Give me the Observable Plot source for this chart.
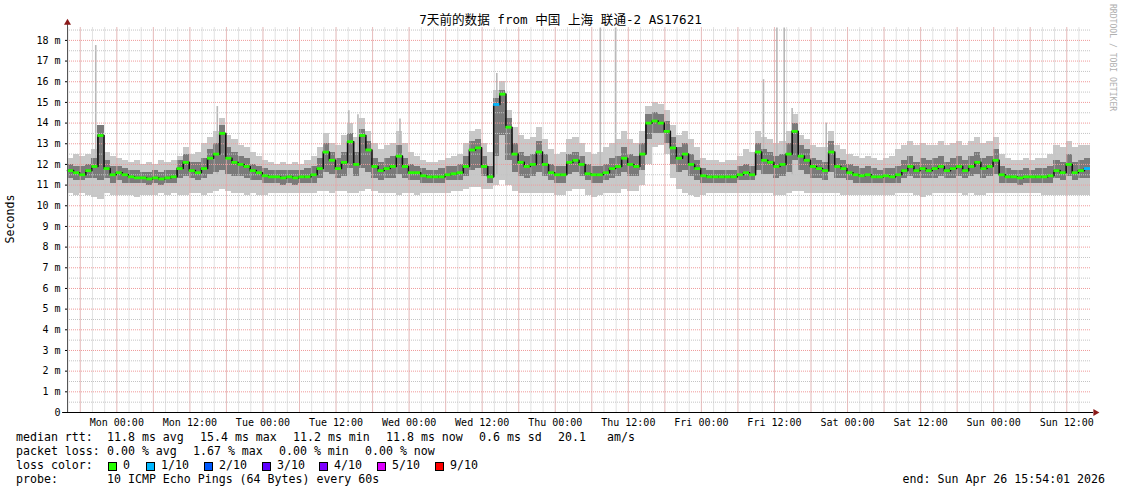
<!DOCTYPE html>
<html><head><meta charset="utf-8">
<script src="https://cdn.jsdelivr.net/npm/d3@7"></script>
<script src="https://cdn.jsdelivr.net/npm/@observablehq/plot@0.6"></script>
<style>
body{margin:0;background:#fff;}
#wrap{position:relative;width:1121px;height:494px;overflow:hidden;font-family:"DejaVu Sans Mono","Noto Sans CJK SC",monospace;color:#000;background:#fff;}
.t{position:absolute;white-space:pre;font-size:11.6px;line-height:1;}
.box{position:absolute;width:7px;height:7px;border:1px solid #000;}
#plot{position:absolute;left:0;top:0;}
</style></head><body><div id="wrap"><div id="plot"></div></div>
<script>
// ---- time range ----
const startMs = Date.UTC(2026, 3, 19, 15, 54, 1);
const endMs = Date.UTC(2026, 3, 26, 15, 54, 1);
const HOUR = 3600e3;

// ---- hourly median RTT (ms), 168 hours starting at start ----
const median = [
  11.7, 11.6, 11.5, 11.7, 11.9, 13.4, 11.8, 11.5, 11.6, 11.5,
  11.4, 11.35, 11.35, 11.3, 11.35, 11.3, 11.35, 11.4, 11.8, 12.1,
  11.7, 11.6, 11.8, 12.3, 12.5, 13.5, 12.3, 12.1, 12.0, 11.9,
  11.7, 11.6, 11.45, 11.4, 11.4, 11.35, 11.4, 11.35, 11.4, 11.4,
  11.5, 11.8, 12.6, 12.2, 11.8, 12.1, 13.1, 12.0, 13.4, 12.7,
  11.9, 11.7, 11.8, 11.9, 12.4, 11.9, 11.6, 11.6, 11.45, 11.4,
  11.4, 11.4, 11.5, 11.55, 11.6, 11.9, 12.7, 12.8, 11.9, 11.4,
  14.9, 15.4, 13.8, 12.5, 12.1, 11.9, 12.0, 12.6, 12.0, 11.6,
  11.5, 11.5, 12.1, 12.2, 12.0, 11.55, 11.5, 11.5, 11.6, 11.8,
  11.9, 12.3, 12.0, 11.9, 12.5, 14.0, 14.1, 14.0, 13.6, 12.8,
  12.3, 12.5, 12.0, 11.8, 11.45, 11.4, 11.4, 11.4, 11.4, 11.4,
  11.5, 11.6, 11.5, 12.6, 12.2, 12.1, 11.9, 12.0, 12.5, 13.6,
  12.4, 12.2, 11.9, 11.8, 11.7, 12.6, 11.9, 11.8, 11.6, 11.5,
  11.45, 11.5, 11.4, 11.4, 11.45, 11.4, 11.5, 11.7, 11.9, 11.7,
  11.8, 11.7, 11.8, 11.9, 11.7, 11.8, 11.9, 11.7, 11.9, 12.1,
  11.8, 11.9, 12.2, 11.5, 11.4, 11.4, 11.35, 11.4, 11.4, 11.4,
  11.4, 11.45, 11.7, 11.6, 12.0, 11.6, 11.7, 11.8
];
// hours with packet loss and the number of lost pings (of 10)
const lossHour = [70, 167];
const lossCount = [1, 1];

// ---- smoke (spread of the 10 pings), hourly ----
const smokeHi = [
  12.3, 12.5, 12.4, 12.5, 12.7, 12.9, 12.6, 12.4, 12.3, 12.2,
  12.1, 12.2, 12.0, 12.1, 12.0, 12.2, 12.1, 12.2, 12.4, 12.8,
  12.5, 12.6, 13.0, 13.3, 13.6, 14.2, 13.4, 13.2, 12.9, 12.8,
  12.6, 12.4, 12.2, 12.1, 12.0, 12.1, 12.0, 12.1, 12.0, 12.2,
  12.4, 12.8, 13.5, 13.0, 12.9, 13.4, 14.0, 13.3, 14.2, 13.6,
  13.0, 12.7, 12.9, 13.0, 13.6, 13.0, 12.6, 12.4, 12.2, 12.1,
  12.1, 12.2, 12.3, 12.4, 12.5, 13.0, 13.6, 13.7, 13.0, 12.6,
  15.6, 16.0, 14.6, 13.8, 13.4, 13.2, 13.3, 13.8, 13.2, 12.7,
  12.5, 12.6, 13.2, 13.3, 13.0, 12.6, 12.5, 12.6, 12.8, 13.0,
  13.2, 13.6, 13.2, 13.0, 13.6, 14.8, 15.0, 14.9, 14.6, 13.9,
  13.4, 13.6, 13.2, 12.8, 12.3, 12.2, 12.2, 12.1, 12.2, 12.2,
  12.4, 12.7, 12.6, 13.6, 13.3, 13.2, 13.0, 13.1, 13.6, 14.4,
  13.4, 13.2, 12.9, 12.8, 12.8, 13.6, 12.9, 12.7, 12.5, 12.4,
  12.3, 12.4, 12.3, 12.2, 12.3, 12.4, 12.7, 12.9, 13.1, 12.9,
  13.0, 12.9, 12.9, 13.1, 12.9, 13.0, 13.1, 12.9, 13.1, 13.3,
  13.0, 13.1, 13.3, 12.5, 12.3, 12.2, 12.2, 12.3, 12.2, 12.3,
  12.3, 12.5, 12.9, 12.8, 13.1, 12.8, 12.9, 12.9
];
const smokeLo = [
  10.6, 10.5, 10.6, 10.5, 10.4, 10.3, 10.6, 10.5, 10.5, 10.5,
  10.5, 10.4, 10.5, 10.5, 10.5, 10.6, 10.5, 10.6, 10.5, 10.5,
  10.6, 10.6, 10.5, 10.6, 10.7, 10.8, 10.7, 10.6, 10.6, 10.5,
  10.6, 10.5, 10.5, 10.6, 10.6, 10.6, 10.6, 10.6, 10.6, 10.6,
  10.6, 10.7, 10.7, 10.6, 10.7, 10.7, 10.6, 10.6, 10.7, 10.8,
  10.7, 10.6, 10.6, 10.6, 10.5, 10.6, 10.6, 10.5, 10.6, 10.6,
  10.6, 10.6, 10.6, 10.7, 10.7, 10.8, 10.9, 10.9, 10.8, 10.8,
  11.0, 11.2, 11.0, 10.7, 10.6, 10.6, 10.6, 10.6, 10.6, 10.6,
  10.5, 10.5, 10.7, 10.8, 10.8, 10.5, 10.4, 10.5, 10.6, 10.6,
  10.6, 10.8, 10.7, 10.7, 11.0, 12.0, 12.8, 12.9, 12.5, 11.3,
  10.8, 10.6, 10.5, 10.4, 10.5, 10.6, 10.6, 10.6, 10.6, 10.6,
  10.6, 10.6, 10.6, 10.6, 10.6, 10.6, 10.5, 10.5, 10.6, 10.7,
  10.7, 10.6, 10.6, 10.6, 10.6, 10.6, 10.6, 10.5, 10.5, 10.5,
  10.5, 10.5, 10.5, 10.5, 10.5, 10.5, 10.6, 10.6, 10.6, 10.5,
  10.4, 10.5, 10.6, 10.6, 10.6, 10.6, 10.6, 10.5, 10.6, 10.5,
  10.5, 10.6, 10.6, 10.6, 10.6, 10.6, 10.6, 10.6, 10.6, 10.6,
  10.5, 10.5, 10.5, 10.5, 10.5, 10.5, 10.5, 10.5
];
const coreHi = [
  12.0, 11.9, 11.9, 12.0, 12.3, 13.9, 12.2, 11.9, 11.9, 11.8,
  11.7, 11.7, 11.6, 11.6, 11.7, 11.6, 11.7, 11.7, 12.2, 12.5,
  12.1, 12.1, 12.3, 12.7, 13.0, 13.9, 12.8, 12.6, 12.4, 12.3,
  12.0, 11.9, 11.8, 11.7, 11.7, 11.7, 11.7, 11.7, 11.7, 11.8,
  11.9, 12.3, 13.0, 12.6, 12.3, 12.6, 13.5, 12.6, 13.7, 13.1,
  12.3, 12.1, 12.3, 12.4, 12.9, 12.3, 12.0, 11.9, 11.8, 11.7,
  11.7, 11.8, 11.9, 11.9, 12.0, 12.4, 13.1, 13.2, 12.4, 11.9,
  15.2, 15.6, 14.2, 13.0, 12.6, 12.4, 12.5, 13.1, 12.5, 12.0,
  11.9, 11.9, 12.5, 12.6, 12.4, 12.0, 11.9, 11.9, 12.0, 12.3,
  12.4, 12.8, 12.5, 12.4, 13.0, 14.4, 14.5, 14.4, 14.1, 13.3,
  12.8, 13.0, 12.5, 12.2, 11.8, 11.7, 11.7, 11.7, 11.7, 11.7,
  11.9, 12.0, 11.9, 13.0, 12.7, 12.6, 12.4, 12.5, 13.0, 14.0,
  12.9, 12.7, 12.3, 12.2, 12.1, 13.1, 12.3, 12.2, 12.0, 11.9,
  11.8, 11.9, 11.8, 11.7, 11.8, 11.8, 11.9, 12.2, 12.4, 12.1,
  12.3, 12.2, 12.3, 12.4, 12.1, 12.3, 12.4, 12.2, 12.4, 12.6,
  12.3, 12.4, 12.7, 11.9, 11.8, 11.7, 11.7, 11.8, 11.7, 11.8,
  11.8, 11.9, 12.2, 12.1, 12.5, 12.1, 12.2, 12.3
];
const coreLo = [
  11.3, 11.2, 11.2, 11.3, 11.3, 11.2, 11.3, 11.1, 11.2, 11.1,
  11.1, 11.1, 11.1, 11.0, 11.1, 11.0, 11.1, 11.1, 11.3, 11.4,
  11.3, 11.2, 11.3, 11.5, 11.6, 11.7, 11.5, 11.4, 11.4, 11.3,
  11.2, 11.2, 11.1, 11.1, 11.1, 11.0, 11.1, 11.0, 11.1, 11.1,
  11.1, 11.3, 11.6, 11.5, 11.3, 11.4, 11.8, 11.4, 11.8, 11.6,
  11.3, 11.2, 11.3, 11.3, 11.5, 11.3, 11.2, 11.2, 11.1, 11.1,
  11.1, 11.1, 11.2, 11.2, 11.2, 11.4, 11.7, 11.8, 11.4, 11.1,
  12.4, 13.4, 12.2, 11.6, 11.4, 11.3, 11.4, 11.6, 11.4, 11.2,
  11.1, 11.1, 11.5, 11.6, 11.4, 11.2, 11.1, 11.1, 11.2, 11.3,
  11.4, 11.6, 11.4, 11.4, 11.7, 13.2, 13.5, 13.5, 13.0, 12.0,
  11.6, 11.7, 11.4, 11.2, 11.1, 11.1, 11.1, 11.1, 11.1, 11.1,
  11.2, 11.2, 11.2, 11.7, 11.5, 11.5, 11.3, 11.4, 11.6, 12.2,
  11.7, 11.5, 11.3, 11.3, 11.2, 11.6, 11.3, 11.3, 11.2, 11.1,
  11.1, 11.1, 11.1, 11.1, 11.1, 11.1, 11.1, 11.3, 11.4, 11.3,
  11.3, 11.3, 11.3, 11.4, 11.3, 11.3, 11.4, 11.3, 11.4, 11.5,
  11.3, 11.4, 11.5, 11.1, 11.1, 11.1, 11.0, 11.1, 11.1, 11.1,
  11.1, 11.1, 11.3, 11.2, 11.4, 11.2, 11.3, 11.3
];

// ---- isolated tall ping outliers (hours from start, top in ms) ----
const spikeHour = [4.64, 24.6, 46.2, 47.7, 54.6, 70.5, 87.5, 90.0, 114.3, 116.5, 117.7, 119.0, 124.6];
const spikeTop  = [17.75, 14.8, 14.6, 14.4, 14.2, 16.4, 18.6, 18.6, 16.1, 18.6, 18.6, 14.7, 14.0];

// ---- axes / legend texts ----
const yTicks = d3.range(0, 19);
const titleText = "7天前的数据 from 中国 上海 联通-2 AS17621";
const rttLabel = "median rtt:";
const rttItems = ["11.8 ms avg", "15.4 ms max", "11.2 ms min", "11.8 ms now", "0.6 ms sd", "20.1", "am/s"];
const rttX = [107, 200, 293, 386, 479, 558, 607];
const lossLabel = "packet loss:";
const lossItems = ["0.00 % avg", "1.67 % max", "0.00 % min", "0.00 % now"];
const lossItemX = [107, 193, 279, 365];
const colorLabel = "loss color:";
const lossLabels = ["0", "1/10", "2/10", "3/10", "4/10", "5/10", "9/10"];
const lossColors = ["#26ff00", "#00b8ff", "#0059ff", "#5e00ff", "#7e00ff", "#dd00ff", "#ff0000"];
const lossBoxX = [108, 146, 204, 262, 319, 377, 435];
const probeLabel = "probe:";
const probeText = "10 ICMP Echo Pings (64 Bytes) every 60s";
const endText = "end: Sun Apr 26 15:54:01 2026";

// ---- tables built from the arrays ----
const hourTable = median.map((v, i) => {
  const k = lossHour.indexOf(i);
  const loss = k >= 0 ? lossCount[k] : 0;
  return {
    t: new Date(startMs + i * HOUR), t2: new Date(Math.min(endMs, startMs + (i + 1) * HOUR)), v,
    lo: smokeLo[i], hi: smokeHi[i], clo: coreLo[i], chi: coreHi[i],
    c: lossColors[Math.min(loss, lossColors.length - 1)]
  };
});
const spikeTable = spikeHour.map((h, k) => ({t: new Date(startMs + h * HOUR), top: spikeTop[k]}));

const start = new Date(startMs), end = new Date(endMs);
const xTicks = d3.utcHour.every(12).range(start, end);
const minorX = d3.utcHour.every(2).range(start, end);
const majorX = d3.utcHour.every(6).range(start, end);
const minorY = d3.range(0.5, 18.6, 1);
const majorY = d3.range(1, 19);

const RED = "#f09a9a", GREY = "#c4c4c4";
const chart = Plot.plot({
  width: 1121, height: 430,
  marginLeft: 67, marginRight: 31, marginTop: 27.5, marginBottom: 18,
  style: {fontFamily: '"DejaVu Sans Mono", monospace', fontSize: "10px", background: "transparent", color: "#000", overflow: "visible"},
  x: {type: "utc", domain: [start, end], ticks: xTicks, tickFormat: d3.utcFormat("%a %H:%M"), tickSize: 0, tickPadding: 6, label: null},
  y: {domain: [0, 18.6], ticks: yTicks, tickFormat: d => d === 0 ? "0" : `${d} m`, tickSize: 2, tickPadding: 5, label: null},
  color: {type: "identity"},
  marks: [
    Plot.rect(hourTable, {x1: "t", x2: "t2", y1: "lo", y2: "hi", fill: "#c8c8c8", shapeRendering: "crispEdges"}),
    Plot.ruleX(spikeTable, {x: "t", y1: 11.5, y2: "top", stroke: "#b8b8b8", strokeWidth: 1.6}),
    Plot.rect(hourTable, {x1: "t", x2: "t2", y1: "clo", y2: "chi", fill: "#7a7a7a", shapeRendering: "crispEdges"}),
    Plot.ruleY(minorY, {stroke: GREY, strokeDasharray: "1,1"}),
    Plot.ruleX(minorX, {stroke: GREY, strokeDasharray: "1,1"}),
    Plot.ruleY(majorY, {stroke: RED, strokeDasharray: "1,1"}),
    Plot.ruleX(majorX, {stroke: RED, strokeDasharray: "1,1"}),
    Plot.line(hourTable, {x: "t", y: "v", curve: "step-after", stroke: "#111", strokeWidth: 1.6}),
    Plot.ruleY(hourTable, {x1: "t", x2: "t2", y: "v", stroke: "c", strokeWidth: 2.8}),
    Plot.ruleX([start], {y1: 0, y2: 18.85, stroke: "#555"}),
    Plot.ruleY([0], {x1: new Date(startMs - 0.8 * HOUR), x2: new Date(endMs + 0.5 * HOUR), stroke: "#000"}),
    Plot.dot([start], {x: d => d, y: 18.85, symbol: "triangle", r: 2.6, fill: "#8b1a1a", stroke: null}),
    Plot.dot([end], {x: () => new Date(endMs + 0.8 * HOUR), y: 0, symbol: "triangle", r: 2.6, fill: "#8b1a1a", stroke: null, rotate: 90})
  ]
});
document.getElementById("plot").appendChild(chart);

// ---- HTML texts ----
const wrap = document.getElementById("wrap");
function addText(txt, left, top, extra) {
  const d = document.createElement("div");
  d.className = "t"; d.textContent = txt;
  d.style.left = left + "px"; d.style.top = top + "px";
  if (extra) Object.assign(d.style, extra);
  wrap.appendChild(d); return d;
}
addText(titleText, 0, 14, {width: "1121px", textAlign: "center", fontSize: "12.6px"});
addText("Seconds", -40, 213, {width: "100px", textAlign: "center", transform: "rotate(-90deg)", transformOrigin: "50% 50%", lineHeight: "12px"});
addText("RRDTOOL / TOBI OETIKER", 1117, 4, {fontSize: "8.1px", color: "#b0b0b0", transform: "rotate(90deg)", transformOrigin: "0 0"});

const rows = [432, 446, 460, 474];
addText(rttLabel, 16, rows[0]);
rttItems.forEach((s, k) => addText(s, rttX[k], rows[0]));
addText(lossLabel, 16, rows[1]);
lossItems.forEach((s, k) => addText(s, lossItemX[k], rows[1]));
addText(colorLabel, 16, rows[2]);
lossLabels.forEach((s, k) => {
  const b = document.createElement("div");
  b.className = "box"; b.style.left = lossBoxX[k] + "px"; b.style.top = "462px"; b.style.background = lossColors[k];
  wrap.appendChild(b);
  addText(s, lossBoxX[k] + 15, rows[2]);
});
addText(probeLabel, 16, rows[3]);
addText(probeText, 107, rows[3]);
addText(endText, 0, rows[3], {left: "auto", right: "16px"});
</script>
</body></html>
